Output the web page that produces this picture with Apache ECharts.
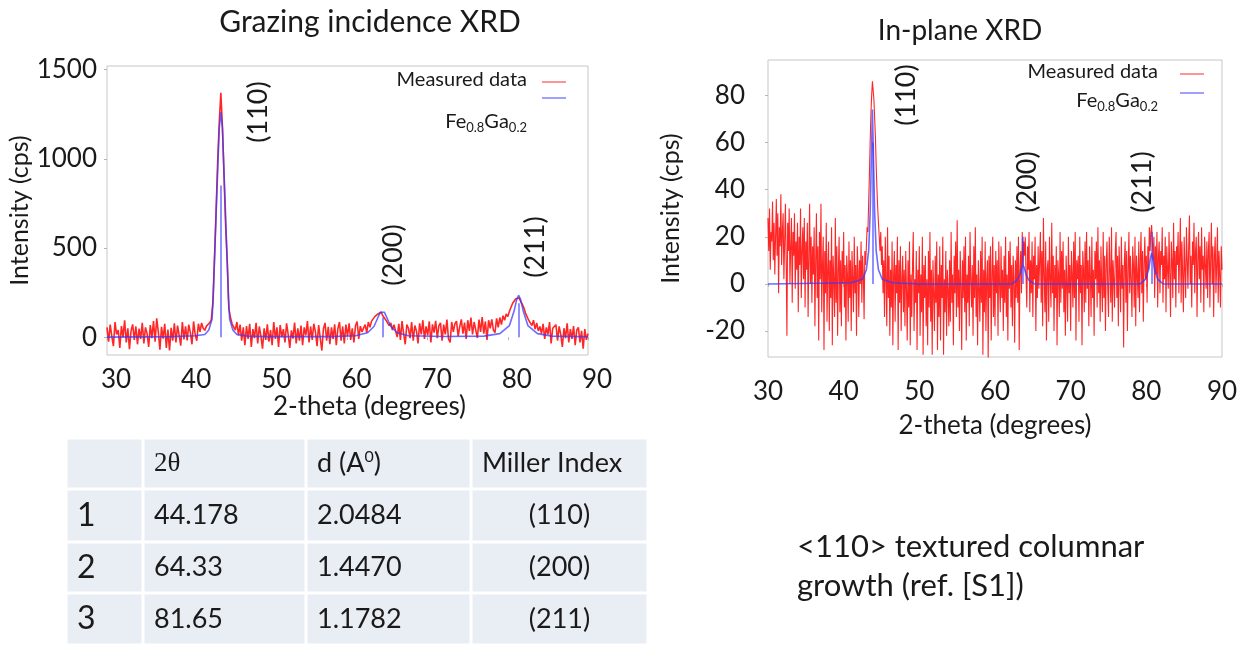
<!DOCTYPE html>
<html>
<head>
<meta charset="utf-8">
<title>XRD of Fe0.8Ga0.2</title>
<script src="https://cdn.jsdelivr.net/npm/echarts@6/dist/echarts.min.js"></script>
<style>
  html, body { margin: 0; padding: 0; background: #fff; }
  #main { width: 1244px; height: 645px; }
</style>
</head>
<body>
<div id="main"></div>
<script>
// both scans start at 30 degrees (2-theta); grazing scan read every 0.2, in-plane every 0.1
const THETA_START = 30;
const GI_STEP = 0.2;
const IP_STEP = 0.1;

// ---- Grazing incidence XRD (cps) ----
const giMeasured = [
  55, -25, 70, 5, -50, 85, 15, 40, -60, 62,
  0, 95, -30, 50, -68, 35, 72, -15, 60, -40,
  48, -10, 80, -35, 55, 20, -55, 68, -5, 90,
  -25, 105, 30, -70, 58, -8, 75, -60, 42, -75,
  52, -20, 78, -30, 65, 10, -48, 85, -12, 60,
  -18, 70, 25, -40, 88, 15, -20, 75, 30, 80,
  50, 38, 62, 55, 80, 95, 190, 430, 700, 980,
  1200, 1370, 1180, 900, 620, 420, 160, 110, 75, 68,
  40, 85, 10, 70, -20, 55, -45, 62, -10, 75,
  -55, 45, -5, 80, -35, 60, 5, -65, 50, -15,
  72, -25, 40, -45, 85, -10, 55, -55, 68, 0,
  45, -30, 78, 15, -60, 38, -8, 82, -35, 50,
  -20, 65, -45, 55, 10, 90, -30, 60, -15, 75,
  30, -50, 68, -5, -75, 48, 80, -20, 58, -40,
  55, -10, 72, -45, 48, 85, -20, 60, -35, 70,
  5, 78, -15, 50, -30, 65, 88, -10, 62, 30,
  30, 70, 25, 85, 55, 90, 80, 115, 105, 130,
  125, 140, 120, 125, 95, 100, 65, 80, 40, 70,
  80, 0, 75, -15, 90, 20, -40, 70, 50, -5,
  85, -20, 65, 35, -35, 78, 15, 95, -10, 60,
  10, 88, -30, 72, 25, 92, -5, 65, 80, -20,
  70, 15, 98, -10, -30, 85, 30, 75, 90, 5,
  60, 100, 20, 82, -10, 95, 35, 110, 15, 85,
  75, -5, 98, 30, 112, 20, 88, -15, 95, 50,
  100, 40, 25, 105, 55, 110, 70, 120, 95, 130,
  115, 145, 155, 190, 190, 215, 205, 220, 200, 185,
  165, 135, 125, 95, 100, 65, 95, 45, 80, 35,
  60, 20, 75, -10, 55, 15, 85, -35, 50, 40,
  70, -20, 60, 15, -55, 50, -5, 78, -30, 45,
  -10, 62, -45, 40, 55, -30, 35, -65, 45, -15,
  20
];
// fitted Fe0.8Ga0.2 profile, [2-theta, cps]
const giFit = [
  [30, 0], [38, 3], [41, 8], [42.2, 15], [42.7, 40], [43.1, 100], [43.25, 220],
  [43.4, 420], [43.7, 800], [44.0, 1170], [44.2, 1260], [44.4, 1170], [44.7, 800],
  [45.0, 420], [45.15, 220], [45.3, 100], [45.7, 40], [46.2, 15], [47.5, 6], [50, 3],
  [58, 3], [61, 8], [62.5, 25], [63.3, 60], [63.8, 110], [64.1, 140], [64.34, 148],
  [64.6, 140], [64.9, 110], [65.4, 60], [66.2, 25], [67.6, 8], [72, 4], [77, 6],
  [79, 20], [80.2, 65], [80.8, 150], [81.1, 210], [81.35, 234], [81.6, 210],
  [81.9, 150], [82.5, 65], [83.7, 20], [85.5, 6], [90, 2]
];
// reference peak sticks, [2-theta, height]
const giSticks = [[44.2, 850], [64.34, 110], [81.35, 190]];

// ---- In-plane XRD (cps), one row per degree ----
const ipMeasured = [
  28, 14, 32, 6, 22, 18, 35, 10, 26, 4,
  20, 36, 12, 30, -4, 24, 16, 38, 8, 22,
  30, 2, 18, 34, 10, -22, 26, 14, 32, 0,
  16, 28, -8, 22, 12, 30, -2, 18, 6, 26,
  -12, 20, 8, 32, -6, 14, 24, 2, 28, -10,
  18, 6, 26, -14, 12, 34, 0, 20, -8, 16,
  4, 24, -18, 10, 30, -6, 16, -24, 22, 2,
  34, -12, 8, 20, -28, 14, -4, 26, -16, 6,
  18, -20, 10, -6, 24, -26, 12, 2, -14, 28,
  -8, 16, -22, 6, 20, -12, 10, -18, 14, 0,
  22, -10, 8, -24, 12, 4, -16, 18, -6, 10,
  -20, 14, 2, -12, 20, -4, 8, -22, 16, 6,
  -14, 10, 0, 18, -8, 12, 4, -15, 14, 8,
  16, 24, 22, 34, 46, 60, 72, 80, 86, 82,
  78, 70, 62, 50, 40, 32, 26, 20, 14, 22,
  8, 16, -4, 10, -14, 20, 2, -18, 24, -6,
  12, -22, 6, -10, 18, -26, 4, 14, -16, 8,
  -4, 20, -28, 10, -8, 16, -20, 2, 12, -12,
  6, -18, 14, -2, -24, 10, -10, 18, -26, 4,
  -14, 8, 22, -20, 2, -8, 14, -28, 6, -4,
  16, -22, 4, -12, 20, -30, 8, -6, 12, -18,
  2, -26, 14, -10, 22, -16, 6, -30, 10, -4,
  -20, 12, -8, 18, -28, 4, -14, 16, -24, 8,
  -6, 20, -30, 2, -12, 14, -22, 6, -2, -18,
  10, -16, 22, -8, 4, -26, 12, -4, 18, -14,
  27, -10, 6, -20, 14, 0, -28, 10, -6, 16,
  -12, 20, -24, 4, -8, 12, -18, 22, 2, -10,
  8, -22, 16, -6, 24, -14, 4, -26, 10, -2,
  -16, 14, -8, 20, -30, 6, -12, 18, -20, 2,
  10, -32, 12, -6, 16, -24, 4, 20, -14, 8,
  -18, 14, -4, 10, -22, 18, 0, -12, 16, -6,
  6, -20, 12, -8, 20, -14, 4, -24, 14, -2,
  18, -10, 8, -18, 12, 2, -25, 10, -6, 16,
  -8, 20, -28, 6, 14, -4, 22, 8, 18, 12,
  20, 4, -10, 16, 6, 22, -12, 10, -4, 18,
  -14, 12, 2, 20, -20, 8, -6, 16, -2, 10,
  22, -8, 14, -18, 28, 4, -12, 18, -24, 6,
  10, -16, 20, 2, -10, 26, -4, 12, -20, 8,
  -6, 16, -26, 10, 4, -14, 22, -8, 14, -2,
  18, -12, 6, -22, 12, 0, -16, 20, -4, 8,
  -20, 14, 4, -10, 18, -6, 22, -24, 10, 2,
  12, -16, 20, -4, 8, -26, 14, 6, -12, 18,
  -8, 22, -2, 10, -18, 16, 4, -14, 20, -6,
  6, -22, 14, 2, 18, -10, 24, -4, 10, -16,
  16, 0, -12, 22, -6, 12, -20, 8, 18, -2,
  -14, 20, 6, -8, 24, -16, 10, 2, -10, 14,
  22, -6, 12, -18, 16, 4, -12, 20, -2, 8,
  -27, 10, 18, -8, 14, -20, 6, 22, -4, 12,
  2, -14, 16, 8, -10, 20, -18, 12, 4, -6,
  18, -12, 10, 22, -4, 14, -16, 8, 20, 2,
  12, -8, 16, 6, 24, 14, 22, 25, 18, 10,
  20, -6, 16, 4, 22, -10, 12, 18, -4, 14,
  8, 24, -8, 12, 2, 20, -12, 16, 6, -2,
  22, 4, -14, 18, 10, -6, 26, 2, 14, -10,
  16, 8, 22, -4, 12, 28, -8, 18, 4, -12,
  20, 6, -6, 24, 10, -2, 16, 29, 0, 12,
  -10, 18, 8, 26, -4, 14, 20, -14, 10, 22,
  2, 16, -8, 24, 6, 12, -12, 20, 8, -2,
  18, -6, 14, 22, -10, 10, 26, 0, 16, -14,
  12, 20, -4, 8, 24, -8, 14, 4, -10, 16,
  6
];
const ipFit = [
  [30, 0], [41, 0.5], [42.5, 2], [43.0, 6], [43.3, 14], [43.5, 30], [43.65, 52],
  [43.8, 74], [43.95, 52], [44.1, 30], [44.3, 14], [44.6, 6], [45.1, 2], [46.5, 0.5],
  [50, 0], [62.2, 0], [62.9, 1.5], [63.3, 4], [63.55, 7], [63.7, 8], [63.85, 7],
  [64.1, 4], [64.5, 1.5], [65.2, 0], [79.2, 0], [79.9, 2], [80.3, 6], [80.55, 11],
  [80.7, 13], [80.85, 11], [81.1, 6], [81.5, 2], [82.2, 0], [90, 0]
];
const ipSticks = [[43.8, 60], [63.7, 20], [80.7, 22]];

// ---- axes ----
const giYTicks = [0, 500, 1000, 1500];
const ipYTicks = [-20, 0, 20, 40, 60, 80];

// ---- table ----
const tableHead = ['', '2θ', 'd (A0)', 'Miller Index'];
const rowNo = ['1', '2', '3'];
const twoTheta = ['44.178', '64.33', '81.65'];
const dSpacing = ['2.0484', '1.4470', '1.1782'];
const millerIdx = ['(110)', '(200)', '(211)'];

const FONT = 'Lato, "Open Sans", sans-serif';
const INK = '#1a1a1a';
const RED = '#ff0000';
const BLUE = '#3a3aff';

function toPairs(values, step) {
  return values.map((v, i) => [+(THETA_START + i * step).toFixed(1), v]);
}

function xAxisFor(gridIndex, labelMargin, labelShift, nameGap, nameShift) {
  return {
    type: 'value', gridIndex, min: 30, max: 90, interval: 10,
    axisLine: { show: false },
    axisTick: { show: true, length: 3, lineStyle: { color: '#b5b5b5' } },
    splitLine: { show: false },
    axisLabel: {
      fontSize: 26, color: INK, fontFamily: FONT, margin: labelMargin,
      showMinLabel: true, showMaxLabel: true,
      padding: [0, 0, 0, labelShift]
    },
    name: '2-theta (degrees)', nameLocation: 'middle', nameGap,
    nameTextStyle: { fontSize: 26, color: INK, fontFamily: FONT, padding: [0, 0, 0, nameShift] }
  };
}

function yAxisFor(gridIndex, min, max, ticks, labelMargin, nameGap) {
  return {
    type: 'value', gridIndex, min, max,
    axisLine: { show: false },
    axisTick: { show: true, length: 3, customValues: ticks, lineStyle: { color: '#b5b5b5' } },
    splitLine: { show: false },
    axisLabel: {
      fontSize: 26, color: INK, fontFamily: FONT, margin: labelMargin,
      customValues: ticks, formatter: v => String(v)
    },
    name: 'Intensity (cps)', nameLocation: 'middle', nameGap,
    nameTextStyle: { fontSize: 25, color: INK, fontFamily: FONT }
  };
}

function stickLines(sticks) {
  return {
    silent: true, symbol: ['none', 'none'],
    label: { show: false },
    lineStyle: { color: BLUE, width: 1.5, type: 'solid', opacity: 0.75 },
    data: sticks.map(([x, h]) => [{ coord: [x, 0] }, { coord: [x, h] }])
  };
}

function measuredSeries(idx, values, step, width) {
  return {
    type: 'line', xAxisIndex: idx, yAxisIndex: idx, data: toPairs(values, step),
    showSymbol: false, symbol: 'none', clip: true, z: 2,
    lineStyle: { color: RED, width, opacity: 0.85 }
  };
}

function fitSeries(idx, points, sticks) {
  return {
    type: 'line', xAxisIndex: idx, yAxisIndex: idx, data: points,
    showSymbol: false, symbol: 'none', clip: true, z: 3,
    lineStyle: { color: BLUE, width: 1.6, opacity: 0.75 },
    markLine: stickLines(sticks)
  };
}

// legend drawn by hand: text on the left, short line sample on the right
function legendBlock(textRight, rowY, lineX) {
  const [y1, y2, y3] = rowY;
  return [
    { type: 'text', x: textRight, y: y1, style: { text: 'Measured data', fontSize: 20, fontFamily: FONT, fill: INK, align: 'right', verticalAlign: 'middle' } },
    { type: 'line', shape: { x1: lineX, y1: y1 + 2, x2: lineX + 24, y2: y1 + 2 }, style: { stroke: '#ff7070', lineWidth: 1.5 } },
    { type: 'line', shape: { x1: lineX, y1: y2, x2: lineX + 24, y2: y2 }, style: { stroke: '#8080ff', lineWidth: 1.5 } },
    {
      type: 'text', x: textRight, y: y3,
      style: {
        text: '{b|Fe}{s|0.8}{b|Ga}{s|0.2}', align: 'right', verticalAlign: 'middle', fill: INK,
        rich: {
          b: { fontSize: 20, fontFamily: FONT, fill: INK, lineHeight: 24 },
          s: { fontSize: 13, fontFamily: FONT, fill: INK, lineHeight: 13, verticalAlign: 'bottom' }
        }
      }
    }
  ];
}

function peakLabel(text, x, y) {
  return {
    type: 'text', x, y, rotation: Math.PI / 2,
    style: { text, fontSize: 27, fontFamily: FONT, fill: INK, align: 'center', verticalAlign: 'middle' }
  };
}

function tableGraphic() {
  const colEdge = [66, 143, 306, 471, 648];
  const rowEdge = [438, 489, 542, 593, 645];
  const els = [];
  const rows = [tableHead];
  rowNo.forEach((n, i) => rows.push([n, twoTheta[i], dSpacing[i], millerIdx[i]]));
  rows.forEach((row, r) => {
    row.forEach((cell, c) => {
      const x0 = colEdge[c], x1 = colEdge[c + 1];
      const y0 = rowEdge[r], y1 = rowEdge[r + 1];
      els.push({
        type: 'rect', shape: { x: x0 + 1.5, y: y0 + 1.5, width: x1 - x0 - 3, height: y1 - y0 - 3 },
        style: { fill: '#e9edf4' }
      });
      if (!cell) return;
      const centered = r > 0 && c === 3;
      const style = {
        text: cell, fill: INK, fontFamily: FONT, fontSize: 27,
        align: centered ? 'center' : 'left', verticalAlign: 'middle'
      };
      if (r === 0 && c === 1) style.fontFamily = '"Liberation Serif", "DejaVu Serif", serif';
      if (r === 0 && c === 2) {
        style.text = '{n|d (A}{p|0}{n|)}';
        style.rich = {
          n: { fontSize: 27, fontFamily: FONT, fill: INK, lineHeight: 30 },
          p: { fontSize: 16, fontFamily: FONT, fill: INK, lineHeight: 16, verticalAlign: 'top' }
        };
      }
      if (r > 0 && c === 0) style.fontSize = 32;
      els.push({
        type: 'text', x: centered ? (x0 + x1) / 2 : x0 + 11, y: (y0 + y1) / 2, style
      });
    });
  });
  return els;
}

const chart = echarts.init(document.getElementById('main'), null, { renderer: 'canvas' });

const option = {
  animation: false,
  backgroundColor: '#fff',
  textStyle: { fontFamily: FONT },
  grid: [
    { left: 107, top: 66, width: 481, height: 289, show: true, borderColor: '#c6c6c6', borderWidth: 1 },
    { left: 768, top: 60, width: 454, height: 297, show: true, borderColor: '#c6c6c6', borderWidth: 1 }
  ],
  xAxis: [
    xAxisFor(0, 12, 18, 36, 44),
    xAxisFor(1, 22, 0, 56, 0)
  ],
  yAxis: [
    yAxisFor(0, -100, 1520, giYTicks, 10, 52),
    yAxisFor(1, -31, 95, ipYTicks, 23, 85)
  ],
  series: [
    measuredSeries(0, giMeasured, GI_STEP, 1.6),
    fitSeries(0, giFit, giSticks),
    measuredSeries(1, ipMeasured, IP_STEP, 1.1),
    fitSeries(1, ipFit, ipSticks)
  ],
  graphic: [
    { type: 'text', x: 370, y: 22, style: { text: 'Grazing incidence XRD', fontSize: 30, fontFamily: FONT, fill: INK, align: 'center', verticalAlign: 'middle' } },
    { type: 'text', x: 960, y: 31, style: { text: 'In-plane XRD', fontSize: 28, fontFamily: FONT, fill: INK, align: 'center', verticalAlign: 'middle' } },
    ...legendBlock(527, [80, 98, 122], 542),
    ...legendBlock(1158, [72, 93, 101], 1180),
    peakLabel('(110)', 258, 112),
    peakLabel('(200)', 393, 255),
    peakLabel('(211)', 535, 247),
    peakLabel('(110)', 906, 95),
    peakLabel('(200)', 1027, 182),
    peakLabel('(211)', 1142, 182),
    ...tableGraphic(),
    {
      type: 'text', x: 797, y: 566,
      style: {
        text: '<110> textured columnar\ngrowth (ref. [S1])', fontSize: 31, lineHeight: 39,
        fontFamily: FONT, fill: INK, align: 'left', verticalAlign: 'middle'
      }
    }
  ]
};

chart.setOption(option);
</script>
</body>
</html>
